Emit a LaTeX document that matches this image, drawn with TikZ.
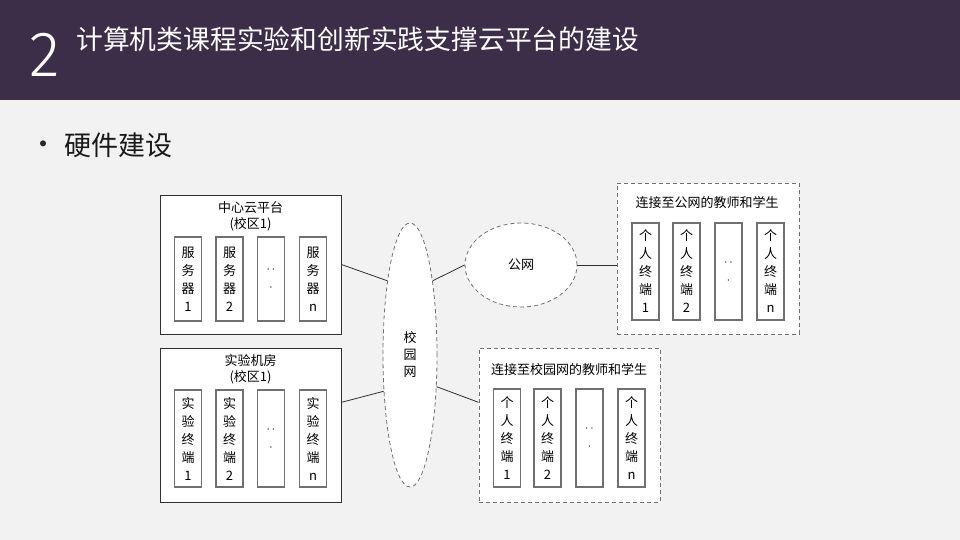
\documentclass[tikz,border=0pt]{standalone}
\usepackage{fontspec}
\newfontfamily\cjk{Noto Sans CJK SC}
\newfontfamily\thin{Fira Sans Light}
\usepackage{tikz}
\usetikzlibrary{shapes.geometric}

\definecolor{headbg}{RGB}{60,45,72}
\definecolor{pagebg}{RGB}{242,242,242}
\definecolor{rim}{RGB}{48,48,48}
\definecolor{cellrim}{RGB}{112,112,112}

\tikzset{
  groupbox/.style={draw=rim, fill=white, line width=0.9pt, minimum width=181pt, inner sep=0pt},
  userbox/.style={draw=cellrim, dash pattern=on 4pt off 3pt, fill=white, line width=0.9pt, minimum width=181pt, inner sep=0pt},
  cell/.style={draw=cellrim, fill=white, line width=1.4pt, minimum width=27pt, inner sep=0pt, align=center, font=\cjk\fontsize{13}{18}\selectfont},
  net/.style={ellipse, draw=cellrim, dash pattern=on 4pt off 3pt, fill=white, line width=0.8pt, inner sep=0pt, align=center, font=\cjk\fontsize{13}{17}\selectfont},
  caption/.style={align=center, font=\cjk\fontsize{13}{16}\selectfont},
  link/.style={draw=rim, line width=0.8pt}
}

\begin{document}
\begin{tikzpicture}[x=1pt, y=-1pt]
                \useasboundingbox (0,0) rectangle (960,540);
                % Slide
                \fill[pagebg] (0,0) rectangle (960,540);
                \fill[headbg] (0,0) rectangle (960,100);
                \node[anchor=base west, inner sep=0pt, white, font=\thin\fontsize{64}{64}\selectfont] (num) at (29,77) {2};
                \node[anchor=base west, inner sep=0pt, white, font=\cjk\fontsize{26.8}{28}\selectfont] (title) at (76,50) {计算机类课程实验和创新实践支撑云平台的建设};
                \node[inner sep=0pt, black!85, font=\cjk\fontsize{28}{28}\selectfont] (dot) at (43,148) {•};
                \node[anchor=base west, inner sep=0pt, black!90, font=\cjk\fontsize{27}{27}\selectfont] (topic) at (64,156) {硬件建设};

                % Central cloud platform
                \node[groupbox, minimum height=139pt] (cloud) at (250.5,264.5) {};
                \node[caption] (cloudcap) at (250.5,216) {中心云平台\\(校区1)};
                \node[cell, minimum height=84pt] (srv1) at (188,279) {服\\务\\器\\1};
                \node[cell, minimum height=84pt] (srv2) at (229.5,279) {服\\务\\器\\2};
                \node[cell, minimum height=84pt] (srv3) at (271,279) {$\cdot\,\cdot$\\$\cdot$};
                \node[cell, minimum height=84pt] (srv4) at (313,279) {服\\务\\器\\n};

                % Lab room
                \node[groupbox, minimum height=154pt] (lab) at (250.5,425) {};
                \node[caption] (labcap) at (250.5,369.5) {实验机房\\(校区1)};
                \node[cell, minimum height=97pt] (lab1) at (188,438.5) {实\\验\\终\\端\\1};
                \node[cell, minimum height=97pt] (lab2) at (229.5,438.5) {实\\验\\终\\端\\2};
                \node[cell, minimum height=97pt] (lab3) at (271,438.5) {$\cdot\,\cdot$\\$\cdot$};
                \node[cell, minimum height=97pt] (lab4) at (313,438.5) {实\\验\\终\\端\\n};

                % Networks
                \node[net, minimum width=54pt, minimum height=264pt] (campus) at (410,355) {校\\园\\网};
                \node[net, minimum width=112pt, minimum height=84pt] (public) at (521,265) {公网};

                % Users on the public network
                \node[userbox, minimum width=182pt, minimum height=151pt] (pubusers) at (708,258.5) {};
                \node[caption] (pubcap) at (707,203) {连接至公网的教师和学生};
                \node[cell, minimum height=97pt] (pub1) at (645.5,271.5) {个\\人\\终\\端\\1};
                \node[cell, minimum height=97pt] (pub2) at (686.5,271.5) {个\\人\\终\\端\\2};
                \node[cell, minimum height=97pt] (pub3) at (728.5,271.5) {$\cdot\,\cdot$\\$\cdot$};
                \node[cell, minimum height=97pt] (pub4) at (770.5,271.5) {个\\人\\终\\端\\n};

                % Users on the campus network
                \node[userbox, minimum height=154pt] (camusers) at (569.5,425) {};
                \node[caption] (camcap) at (569,370) {连接至校园网的教师和学生};
                \node[cell, minimum height=98pt] (cam1) at (507,438) {个\\人\\终\\端\\1};
                \node[cell, minimum height=98pt] (cam2) at (547.5,438) {个\\人\\终\\端\\2};
                \node[cell, minimum height=98pt] (cam3) at (589.5,438) {$\cdot\,\cdot$\\$\cdot$};
                \node[cell, minimum height=98pt] (cam4) at (631.5,438) {个\\人\\终\\端\\n};

                % Links
                \draw[link] (cloud.east) -- (campus.107);
                \draw[link] (lab.14) -- (campus.234);
                \draw[link] (campus.73) -- (public.west);
                \draw[link] (public.east) -- (public.east -| pubusers.west);
                \draw[link] (campus.-50) -- (camusers.166);
            \end{tikzpicture}
\end{document}
